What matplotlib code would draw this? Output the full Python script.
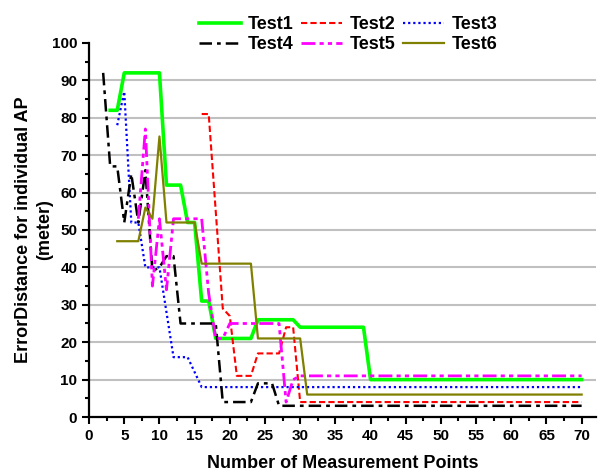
import matplotlib
matplotlib.use('Agg')
import matplotlib.pyplot as plt
from matplotlib.ticker import MultipleLocator

plt.rcParams['font.family'] = ['Liberation Sans', 'DejaVu Sans']
plt.rcParams['font.weight'] = 'bold'

# data (only the corner points of each step line)
x1 = [3, 4, 5, 10, 11, 13, 14, 15, 16, 17, 18, 23, 24, 29, 30, 39, 40, 70]
y1 = [82, 82, 92, 92, 62, 62, 52, 52, 31, 31, 21, 21, 26, 26, 24, 24, 10, 10]

x2 = [16, 17, 18, 19, 20, 21, 23, 24, 27, 28, 29, 30, 70]
y2 = [81, 81, 55, 29, 27, 11, 11, 17, 17, 24, 24, 4, 4]

x3 = [4, 5, 6, 7, 8, 10, 11, 12, 14, 15, 16, 70]
y3 = [78, 87, 52, 52, 40, 40, 28, 16, 16, 12, 8, 8]

x4 = [2, 3, 4, 5, 6, 7, 8, 9, 10, 11, 12, 13, 18, 19, 23, 24, 26, 27, 70]
y4 = [92, 67, 67, 52, 65, 52, 66, 39, 40, 43, 43, 25, 25, 4, 4, 9, 9, 3, 3]

x5 = [7, 8, 9, 10, 11, 12, 16, 17, 18, 19, 20, 27, 28, 29, 30, 70]
y5 = [53, 77, 35, 53, 34, 53, 53, 33, 21, 21, 25, 25, 4, 10, 11, 11]

x6 = [4, 7, 8, 9, 10, 11, 15, 16, 23, 24, 30, 31, 70]
y6 = [47, 47, 56, 53, 75, 52, 52, 41, 41, 21, 21, 6, 6]

fig = plt.figure(figsize=(6.06, 4.72), dpi=100)
ax = fig.add_axes([0.147, 0.1165, 0.836, 0.7925])

l1, = ax.plot(x1, y1, color='#00ff00', lw=2.6, label='Test1')
l2, = ax.plot(x2, y2, color='#ff0000', lw=1.5, ls=(0, (3, 1.5)), label='Test2')
l3, = ax.plot(x3, y3, color='#0000ff', lw=1.6, ls=(0, (1, 1.3)), label='Test3')
l4, = ax.plot(x4, y4, color='black', lw=1.8, ls=(0, (5, 2, 1.5, 2)), label='Test4')
l5, = ax.plot(x5, y5, color='#ff00ff', lw=2.0, ls=(0, (5, 1.5, 1.5, 1.5, 1.5, 1.5)), label='Test5')
l6, = ax.plot(x6, y6, color='#808000', lw=1.6, label='Test6')

ax.set_xlim(0, 72)
ax.set_ylim(0, 100)
ax.xaxis.set_major_locator(MultipleLocator(5))
ax.xaxis.set_minor_locator(MultipleLocator(2.5))
ax.yaxis.set_major_locator(MultipleLocator(10))
ax.yaxis.set_minor_locator(MultipleLocator(5))
ax.tick_params(which='major', direction='out', length=5, width=1.5, labelsize=11)
ax.tick_params(which='minor', direction='out', length=3, width=1.5)
for lab in ax.get_xticklabels() + ax.get_yticklabels():
    lab.set_fontweight('bold')

for s in ['top', 'right']:
    ax.spines[s].set_visible(False)
for s in ['left', 'bottom']:
    ax.spines[s].set_linewidth(1.6)

# horizontal grid lines 10..90
for g in range(10, 100, 10):
    ax.axhline(g, color='#c0c0c0', lw=1.5, zorder=0)

ax.set_xlabel('Number of Measurement Points', fontsize=13, fontweight='bold', labelpad=9)
ax.set_ylabel('ErrorDistance for individual AP\n(meter)', fontsize=13, fontweight='bold',
              linespacing=1.3, labelpad=-1)

handles = [l1, l4, l2, l5, l3, l6]
fig.legend(handles, [h.get_label() for h in handles], ncol=3, frameon=False,
           loc='upper right', bbox_to_anchor=(0.847, 1.0),
           handlelength=2.3, handletextpad=0.4, columnspacing=0.4, labelspacing=0.15,
           prop={'weight': 'bold', 'size': 13})

fig.savefig('out.png', dpi=100)
